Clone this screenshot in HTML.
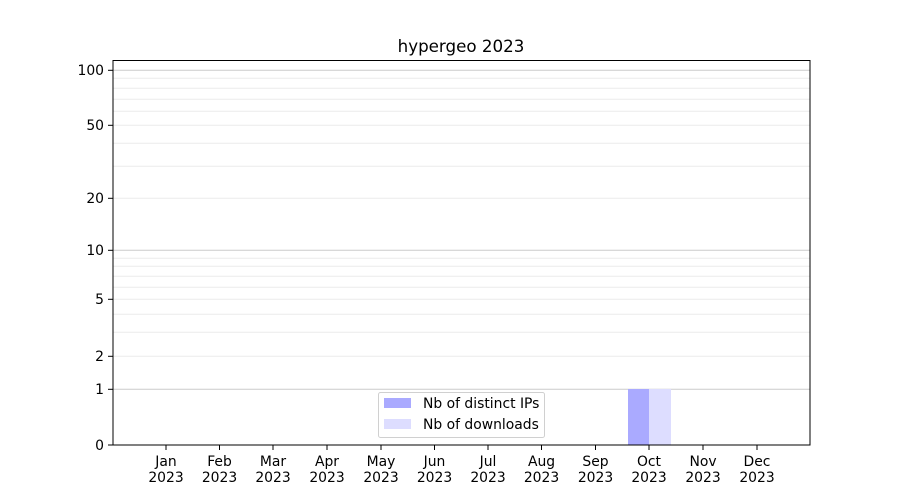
<!DOCTYPE html>
<html><head><meta charset="utf-8"><style>body{margin:0;background:#fff}svg{display:block}text{font-family:"DejaVu Sans","Liberation Sans",sans-serif;font-size:13.9px;fill:#000}</style></head>
<body><svg width="900" height="500" xmlns="http://www.w3.org/2000/svg">
<rect width="900" height="500" fill="#fff"/>
<g stroke="#ebebeb" stroke-width="1">
<line x1="113" x2="810" y1="78.3" y2="78.3"/><line x1="113" x2="810" y1="88.3" y2="88.3"/><line x1="113" x2="810" y1="99.3" y2="99.3"/><line x1="113" x2="810" y1="111.3" y2="111.3"/><line x1="113" x2="810" y1="125.3" y2="125.3"/><line x1="113" x2="810" y1="143.3" y2="143.3"/><line x1="113" x2="810" y1="166.3" y2="166.3"/><line x1="113" x2="810" y1="198.3" y2="198.3"/>
<line x1="113" x2="810" y1="258.3" y2="258.3"/><line x1="113" x2="810" y1="266.3" y2="266.3"/><line x1="113" x2="810" y1="276.3" y2="276.3"/><line x1="113" x2="810" y1="287.3" y2="287.3"/><line x1="113" x2="810" y1="299.3" y2="299.3"/><line x1="113" x2="810" y1="314.3" y2="314.3"/><line x1="113" x2="810" y1="332.3" y2="332.3"/><line x1="113" x2="810" y1="356.3" y2="356.3"/>
</g>
<g stroke="#cccccc" stroke-width="1"><line x1="113" x2="810" y1="70.3" y2="70.3"/><line x1="113" x2="810" y1="250.3" y2="250.3"/><line x1="113" x2="810" y1="389.3" y2="389.3"/></g>
<rect x="628" y="389" width="21" height="56" fill="#aaaaff"/>
<rect x="649" y="389" width="22" height="56" fill="#ddddff"/>
<rect x="113" y="60.5" width="697" height="384.5" fill="none" stroke="#000" stroke-width="1"/>
<g stroke="#000"><line x1="108" x2="113" y1="70.3" y2="70.3"/><line x1="108" x2="113" y1="125.3" y2="125.3"/><line x1="108" x2="113" y1="198.3" y2="198.3"/><line x1="108" x2="113" y1="250.3" y2="250.3"/><line x1="108" x2="113" y1="299.3" y2="299.3"/><line x1="108" x2="113" y1="356.3" y2="356.3"/><line x1="108" x2="113" y1="389.3" y2="389.3"/><line x1="108" x2="113" y1="445" y2="445"/></g>
<g text-anchor="end"><text x="104" y="75">100</text><text x="104" y="130">50</text><text x="104" y="203">20</text><text x="104" y="255">10</text><text x="104" y="304">5</text><text x="104" y="361">2</text><text x="104" y="394">1</text><text x="104" y="450">0</text></g>
<g stroke="#000">
<line x1="166" x2="166" y1="445" y2="450"/><line x1="219.5" x2="219.5" y1="445" y2="450"/><line x1="273" x2="273" y1="445" y2="450"/><line x1="327" x2="327" y1="445" y2="450"/><line x1="381" x2="381" y1="445" y2="450"/><line x1="434.5" x2="434.5" y1="445" y2="450"/><line x1="488" x2="488" y1="445" y2="450"/><line x1="541.5" x2="541.5" y1="445" y2="450"/><line x1="595.5" x2="595.5" y1="445" y2="450"/><line x1="649" x2="649" y1="445" y2="450"/><line x1="703" x2="703" y1="445" y2="450"/><line x1="757" x2="757" y1="445" y2="450"/></g>
<g text-anchor="middle">
<text x="166" y="466">Jan</text><text x="219.5" y="466">Feb</text><text x="273" y="466">Mar</text><text x="327" y="466">Apr</text><text x="381" y="466">May</text><text x="434.5" y="466">Jun</text><text x="488" y="466">Jul</text><text x="541.5" y="466">Aug</text><text x="595.5" y="466">Sep</text><text x="649" y="466">Oct</text><text x="703" y="466">Nov</text><text x="757" y="466">Dec</text>
<text x="166" y="482">2023</text><text x="219.5" y="482">2023</text><text x="273" y="482">2023</text><text x="327" y="482">2023</text><text x="381" y="482">2023</text><text x="434.5" y="482">2023</text><text x="488" y="482">2023</text><text x="541.5" y="482">2023</text><text x="595.5" y="482">2023</text><text x="649" y="482">2023</text><text x="703" y="482">2023</text><text x="757" y="482">2023</text>
<text x="461" y="52" style="font-size:16.7px">hypergeo 2023</text></g>
<rect x="378.5" y="392.5" width="166" height="45" rx="2" fill="#fff" fill-opacity="0.8" stroke="#d0d0d0"/>
<rect x="384" y="398" width="27" height="10" fill="#aaaaff"/>
<rect x="384" y="419" width="27" height="10" fill="#ddddff"/>
<text x="423" y="408">Nb of distinct IPs</text>
<text x="423" y="429">Nb of downloads</text>
</svg></body></html>
